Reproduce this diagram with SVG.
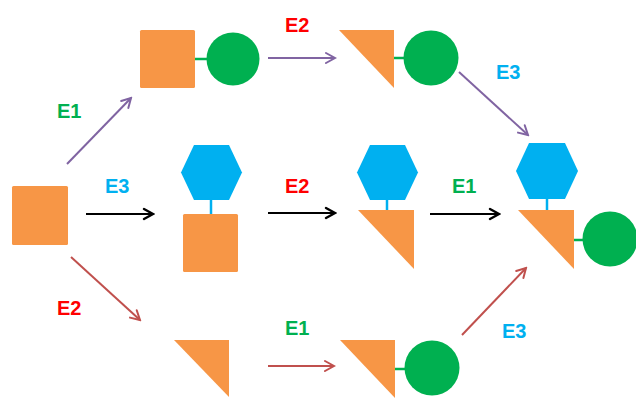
<svg xmlns="http://www.w3.org/2000/svg" width="636" height="398" viewBox="0 0 636 398">
<style>
.or{fill:#F79646}
.gr{fill:#00B050}
.bl{fill:#00B0F0}
.gl{stroke:#00B050;stroke-width:2.5}
.bs{stroke:#00B0F0;stroke-width:2.5}
.lbl{font-family:"Liberation Sans",Arial,sans-serif;font-weight:bold;font-size:20px}
.tr{fill:#FF0000}
.tg{fill:#00B050}
.tb{fill:#00B0F0}
.ap{stroke:#8064A2;stroke-width:2;fill:none;marker-end:url(#mp)}
.ak{stroke:#000;stroke-width:2.2;fill:none;marker-end:url(#mk)}
.ar{stroke:#C0504D;stroke-width:2;fill:none;marker-end:url(#mr)}
</style>
<defs>
<marker id="mp" viewBox="-11 -7 13 14" refX="0" refY="0" markerWidth="13" markerHeight="14" markerUnits="userSpaceOnUse" orient="auto"><path d="M-9,-5 L0,0 L-9,5" fill="none" stroke="#8064A2" stroke-width="2" stroke-linecap="round"/></marker>
<marker id="mk" viewBox="-11 -7 13 14" refX="0" refY="0" markerWidth="13" markerHeight="14" markerUnits="userSpaceOnUse" orient="auto"><path d="M-9,-5 L0,0 L-9,5" fill="none" stroke="#000" stroke-width="2.4" stroke-linecap="round"/></marker>
<marker id="mr" viewBox="-11 -7 13 14" refX="0" refY="0" markerWidth="13" markerHeight="14" markerUnits="userSpaceOnUse" orient="auto"><path d="M-9,-5 L0,0 L-9,5" fill="none" stroke="#C0504D" stroke-width="2" stroke-linecap="round"/></marker>
</defs>
<rect width="636" height="398" fill="#fff"/>

<g id="connectors">
<line class="ap" x1="67" y1="164" x2="131" y2="98"/>
<line class="ap" x1="268" y1="58" x2="335" y2="58"/>
<line class="ap" x1="459" y1="72" x2="528" y2="135"/>
<line class="ak" x1="86" y1="214" x2="153" y2="214"/>
<line class="ak" x1="268" y1="213" x2="335" y2="213"/>
<line class="ak" x1="430" y1="214" x2="499" y2="214"/>
<line class="ar" x1="71" y1="257" x2="140" y2="320"/>
<line class="ar" x1="268" y1="366" x2="334" y2="366"/>
<line class="ar" x1="462" y1="335" x2="526" y2="268"/>
</g>

<g id="labels">
<text class="lbl tg" x="57" y="118">E1</text>
<text class="lbl tr" x="285" y="32">E2</text>
<text class="lbl tb" x="496" y="79">E3</text>
<text class="lbl tb" x="105" y="193">E3</text>
<text class="lbl tr" x="285" y="193">E2</text>
<text class="lbl tg" x="452" y="193">E1</text>
<text class="lbl tr" x="57" y="315">E2</text>
<text class="lbl tg" x="285" y="335">E1</text>
<text class="lbl tb" x="502" y="338">E3</text>
</g>

<g id="start">
<rect class="or" x="12" y="186" width="56" height="59" rx="1.5"/>
</g>

<g id="top1">
<line class="gl" x1="194" y1="59" x2="208" y2="59"/>
<rect class="or" x="140" y="30" width="55" height="58" rx="1.5"/>
<circle class="gr" cx="233" cy="59" r="26.5"/>
</g>

<g id="top2">
<line class="gl" x1="393" y1="58" x2="405" y2="58"/>
<path class="or" d="M339,30 L394,30 L394,88 Z"/>
<circle class="gr" cx="431" cy="58" r="27.5"/>
</g>

<g id="mid1">
<line class="bs" x1="211" y1="199" x2="211" y2="215"/>
<path class="bl" d="M181,172.5 L194,145 L229,145 L242,172.5 L229,200 L194,200 Z"/>
<rect class="or" x="183" y="214" width="55" height="58" rx="1.5"/>
</g>

<g id="mid2">
<line class="bs" x1="387" y1="199" x2="387" y2="211"/>
<path class="bl" d="M357,172.5 L370,145 L405,145 L418,172.5 L405,200 L370,200 Z"/>
<path class="or" d="M358,210 L414,210 L414,269 Z"/>
</g>

<g id="final">
<line class="bs" x1="547" y1="198" x2="547" y2="211"/>
<line class="gl" x1="573" y1="240" x2="585" y2="240"/>
<path class="bl" d="M516,171 L529,143 L565,143 L578,171 L565,199 L529,199 Z"/>
<path class="or" d="M518,210 L574,210 L574,269 Z"/>
<circle class="gr" cx="610" cy="239" r="27.5"/>
</g>

<g id="bot1">
<path class="or" d="M174,340 L229,340 L229,397 Z"/>
</g>

<g id="bot2">
<line class="gl" x1="394" y1="369" x2="406" y2="369"/>
<path class="or" d="M340,340 L395,340 L395,398 Z"/>
<circle class="gr" cx="432" cy="368" r="27.5"/>
</g>
</svg>
